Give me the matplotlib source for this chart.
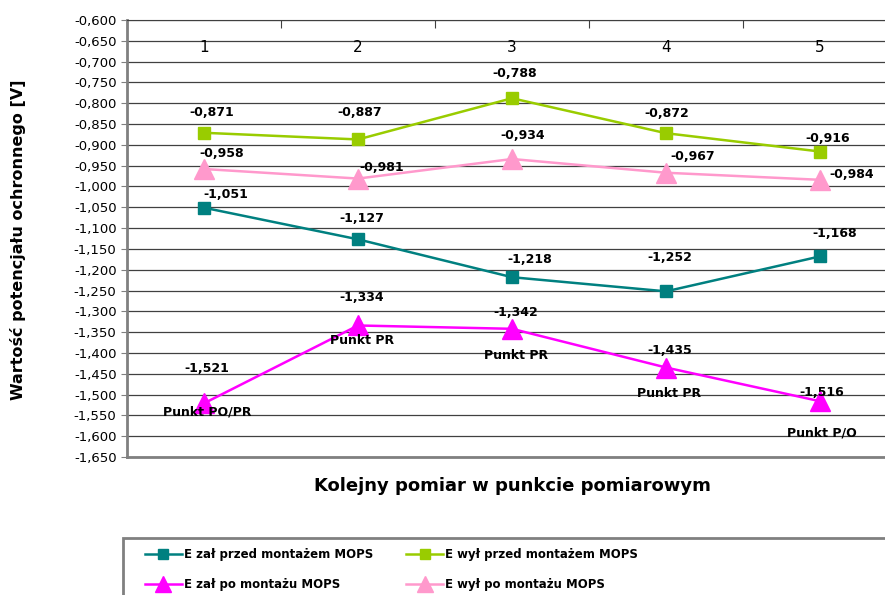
import numpy as np
import matplotlib
matplotlib.use('Agg')
import matplotlib.pyplot as plt
import matplotlib.ticker as ticker
from matplotlib.patches import Rectangle

# data
categories = ['1', '2', '3', '4', '5']
e_zal_przed = [-1.051, -1.127, -1.218, -1.252, -1.168]
e_wyl_przed = [-0.871, -0.887, -0.788, -0.872, -0.916]
e_zal_po = [-1.521, -1.334, -1.342, -1.435, -1.516]
e_wyl_po = [-0.958, -0.981, -0.934, -0.967, -0.984]
punkt_labels = ['Punkt PO/PR', 'Punkt PR', 'Punkt PR', 'Punkt PR', 'Punkt P/O']

series_names = ['E zał przed montażem MOPS', 'E wył przed montażem MOPS',
                'E zał po montażu MOPS', 'E wył po montażu MOPS']

# label offsets in pixels (dx, dy up)
off_zal_przed = [(22, 13), (4, 21), (18, 18), (4, 34), (15, 23)]
off_wyl_przed = [(8, 20), (2, 27), (3, 25), (1, 20), (8, 13)]
off_zal_po = [(3, 35), (4, 28), (4, 16), (4, 17), (2, 9)]
off_wyl_po = [(18, 15), (24, 11), (11, 24), (27, 16), (32, 5)]
off_punkt = [(3, -9), (4, -15), (4, -27), (3, -26), (2, -32)]

W, H = 885, 595
fig = plt.figure(figsize=(W / 100, H / 100), dpi=100)
ax = fig.add_axes([127 / W, 1 - 457 / H, 770 / W, 437 / H])

x = np.arange(1, len(categories) + 1)

styles = [
    (e_zal_przed, '#008080', 's', 8.5, off_zal_przed),
    (e_wyl_przed, '#99CC00', 's', 8.5, off_wyl_przed),
    (e_zal_po, '#FF00FF', '^', 15, off_zal_po),
    (e_wyl_po, '#FF99CC', '^', 15, off_wyl_po),
]

handles = []
for (vals, color, mk, ms, offs), name in zip(styles, series_names):
    h, = ax.plot(x, vals, color=color, marker=mk, markersize=ms, linewidth=1.8,
                 label=name, zorder=3, clip_on=False)
    handles.append(h)
    for xi, v, (dx, dy) in zip(x, vals, offs):
        ax.annotate(f"{v:.3f}".replace('.', ','), (xi, v), xytext=(dx, dy),
                    textcoords='offset pixels', ha='center', va='center',
                    fontsize=9, fontweight='bold', zorder=4)

for xi, v, txt, (dx, dy) in zip(x, e_zal_po, punkt_labels, off_punkt):
    ax.annotate(txt, (xi, v), xytext=(dx, dy), textcoords='offset pixels',
                ha='center', va='center', fontsize=9, fontweight='bold', zorder=4)

ax.set_xlim(0.5, len(categories) + 0.5)
ax.set_ylim(-1.65, -0.6)
ax.yaxis.set_major_locator(ticker.MultipleLocator(0.05))
ax.yaxis.set_major_formatter(ticker.FuncFormatter(lambda v, p: f"{v:.3f}".replace('.', ',')))
ax.tick_params(axis='y', labelsize=9.5, length=4, color='#808080')
ax.grid(axis='y', color='#404040', linewidth=0.9)
ax.set_axisbelow(True)

# category axis sits at the top (-0,600)
ax.xaxis.tick_top()
ax.set_xticks(np.arange(0.5, len(categories) + 1, 1.0))
ax.set_xticklabels([])
ax.tick_params(axis='x', direction='in', length=6, color='#404040')
for xi, c in zip(x, categories):
    ax.text(xi, 1 - 27 / 437, c, transform=ax.get_xaxis_transform(),
            ha='center', va='center', fontsize=11)

ax.spines['left'].set_color('#808080')
ax.spines['left'].set_linewidth(2)
ax.spines['bottom'].set_color('#808080')
ax.spines['bottom'].set_linewidth(2)
ax.spines['top'].set_color('#404040')
ax.spines['right'].set_visible(False)

fig.text(18 / W, 1 - 240 / H, 'Wartość potencjału ochronnego [V]', rotation=90,
         ha='center', va='center', fontsize=11.5, fontweight='bold')
fig.text(512 / W, 1 - 486 / H, 'Kolejny pomiar w punkcie pomiarowym',
         ha='center', va='center', fontsize=13, fontweight='bold')

# legend box runs off the picture edge
fig.patches.append(Rectangle((123 / W, -0.1), 2, 0.1 + (H - 538) / H,
                             transform=fig.transFigure, fill=False,
                             edgecolor='#808080', linewidth=2))
order = [0, 2, 1, 3]  # fill row by row
leg = fig.legend([handles[i] for i in order], [series_names[i] for i in order],
                 loc='upper left', ncol=2,
                 bbox_to_anchor=(145 / W, 1 - 548 / H), frameon=False,
                 prop={'size': 8.5, 'weight': 'bold'},
                 handlelength=3.1, handletextpad=0.2,
                 columnspacing=2.8, labelspacing=1.45, numpoints=1,
                 markerscale=0.8, borderpad=0, borderaxespad=0)

plt.savefig('out.png', dpi=100)
